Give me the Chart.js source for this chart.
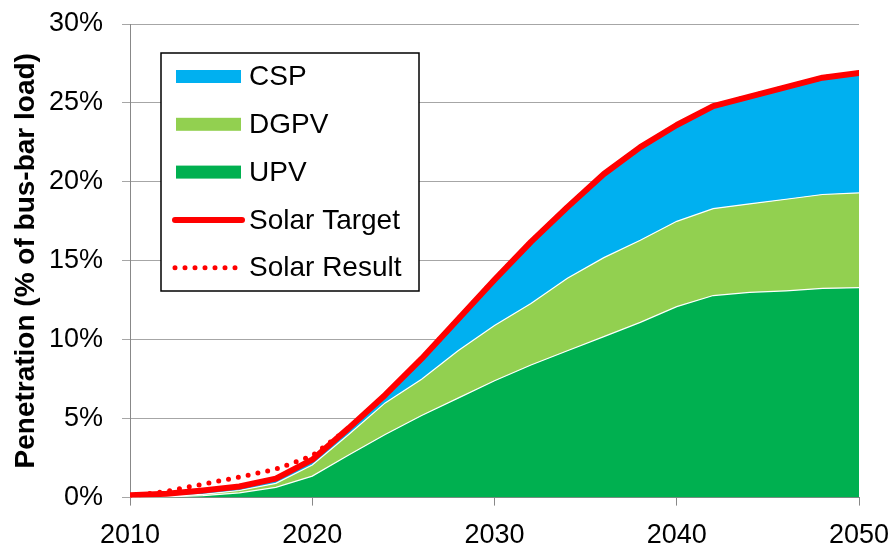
<!DOCTYPE html>
<html>
<head>
<meta charset="utf-8">
<script src="https://cdn.jsdelivr.net/npm/chart.js@4.4.0/dist/chart.umd.min.js"></script>
<style>
html, body { margin: 0; padding: 0; background: #fff; }
</style>
</head>
<body>
<canvas id="myChart" width="893" height="543"></canvas>
<script>
// data (% of bus-bar load)
const years = [2010, 2012, 2014, 2016, 2018, 2020, 2022, 2024, 2026, 2028, 2030,
               2032, 2034, 2036, 2038, 2040, 2042, 2044, 2046, 2048, 2050];
const upv  = [0.02, 0.05, 0.12, 0.3, 0.65, 1.36, 2.7, 4.0, 5.2, 6.3, 7.4,
              8.4, 9.3, 10.2, 11.1, 12.1, 12.8, 13.0, 13.1, 13.25, 13.3];
const dgpv = [0.03, 0.03, 0.08, 0.15, 0.25, 0.7, 1.3, 2.0, 2.3, 3.0, 3.5,
              3.9, 4.6, 5.0, 5.2, 5.4, 5.5, 5.6, 5.8, 5.95, 6.0];
const csp  = [0.05, 0.1, 0.15, 0.2, 0.25, 0.3, 0.4, 0.55, 1.3, 2.0, 2.9,
              3.9, 4.5, 5.3, 5.9, 6.1, 6.5, 6.8, 7.1, 7.4, 7.6];
const solarTarget = [0.15, 0.25, 0.45, 0.7, 1.2, 2.4, 4.4, 6.5, 8.8, 11.3, 13.8,
                     16.2, 18.4, 20.5, 22.2, 23.6, 24.8, 25.4, 26.0, 26.6, 26.9];
const solarResult = [0.1, 0.4, 0.85, 1.3, 1.8, 2.65, 4.4, 6.5, 8.8, 11.3, 13.8,
                     16.2, 18.4, 20.5, 22.2, 23.6, 24.8, 25.4, 26.0, 26.6, 26.9];
const xTicks = [2010, 2020, 2030, 2040, 2050];
const yTicks = [0, 5, 10, 15, 20, 25, 30];
const legendOrder = ['CSP', 'DGPV', 'UPV', 'Solar Target', 'Solar Result'];

const FONT = '"Liberation Sans", Arial, sans-serif';
const ctx = document.querySelector('#myChart');

const pts = (arr) => years.map((y, i) => ({ x: y, y: arr[i] }));

// legend drawn inside the plot, boxed, like the original
const legendBox = {
    id: 'legendBox',
    afterDraw(chart) {
        const c = chart.ctx;
        c.save();
        c.fillStyle = '#fff';
        c.fillRect(161, 53, 258, 238);
        c.strokeStyle = '#000';
        c.lineWidth = 1.5;
        c.strokeRect(161, 53, 258, 238);
        legendOrder.forEach((name, i) => {
            const ds = chart.data.datasets.find(d => d.label === name);
            const cy = 76.5 + i * 47.8;
            if (ds.fill) {
                c.fillStyle = ds.backgroundColor;
                c.fillRect(176, cy - 6.5, 65, 13);
            } else {
                c.beginPath();
                c.strokeStyle = ds.borderColor;
                c.lineWidth = ds.borderWidth;
                c.lineCap = 'round';
                c.setLineDash(ds.borderDash || []);
                c.moveTo(175, cy);
                c.lineTo(242, cy);
                c.stroke();
                c.setLineDash([]);
            }
            c.fillStyle = '#000';
            c.font = '28px ' + FONT;
            c.textBaseline = 'middle';
            c.textAlign = 'left';
            c.fillText(name, 249, cy + 1);
        });
        c.restore();
    }
};

new Chart(ctx, {
    type: 'line',
    data: {
        datasets: [
            { label: 'UPV', data: pts(upv), stack: 'solar', fill: 'origin',
              backgroundColor: '#00B050', borderColor: '#ffffff', borderWidth: 1.2, order: 2 },
            { label: 'DGPV', data: pts(dgpv), stack: 'solar', fill: '-1',
              backgroundColor: '#92D050', borderColor: '#ffffff', borderWidth: 1.2, order: 3 },
            { label: 'CSP', data: pts(csp), stack: 'solar', fill: '-1',
              backgroundColor: '#00B0F0', borderColor: '#00B0F0', borderWidth: 0, order: 4 },
            { label: 'Solar Result', data: pts(solarResult), stack: 'res', fill: false,
              borderColor: '#FF0000', borderWidth: 5, borderDash: [0, 10], borderCapStyle: 'round', order: 1 },
            { label: 'Solar Target', data: pts(solarTarget), stack: 'tgt', fill: false,
              borderColor: '#FF0000', borderWidth: 6, borderCapStyle: 'round', borderJoinStyle: 'round', order: 0 }
        ]
    },
    options: {
        responsive: false,
        animation: false,
        layout: { padding: { left: 0, right: 34, top: 24, bottom: -23 } },
        elements: { point: { radius: 0 }, line: { tension: 0 } },
        plugins: {
            legend: { display: false },
            tooltip: { enabled: false }
        },
        scales: {
            x: {
                type: 'linear',
                min: 2010,
                max: 2050,
                afterBuildTicks: (s) => { s.ticks = xTicks.map(v => ({ value: v })); },
                afterFit: (s) => { s.paddingRight = 0; s.paddingLeft = 0; },
                ticks: { color: '#000', font: { family: FONT, size: 27 }, padding: 14, maxRotation: 0,
                         callback: (v) => String(v) },
                grid: { drawOnChartArea: false, drawTicks: true, tickLength: 8, color: '#888' },
                border: { color: '#888', width: 1 }
            },
            y: {
                stacked: true,
                min: 0,
                max: 30,
                afterBuildTicks: (s) => { s.ticks = yTicks.map(v => ({ value: v })); },
                afterFit: (s) => { s.paddingTop = 0; s.paddingBottom = 0; s.width = 130; },
                ticks: { color: '#000', font: { family: FONT, size: 27 }, padding: 19,
                         callback: (v) => v + '%' },
                grid: { color: '#a6a6a6', lineWidth: 1, tickLength: 8 },
                border: { color: '#888', width: 1 },
                title: { display: true, text: 'Penetration (% of bus-bar load)', color: '#000',
                         font: { family: FONT, size: 28, weight: 'bold' }, padding: { top: 9, bottom: 0 } }
            }
        }
    },
    plugins: [legendBox]
});
</script>
</body>
</html>
